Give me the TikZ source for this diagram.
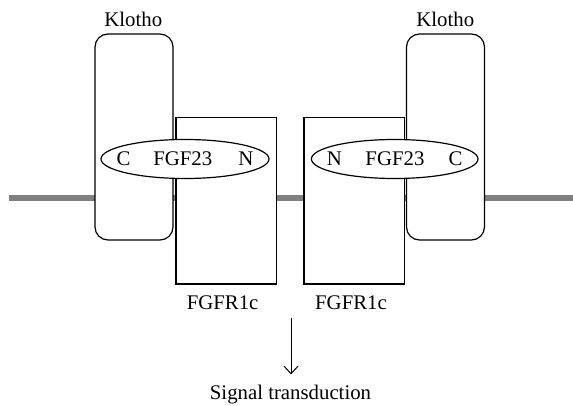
\documentclass[tikz,border=0pt]{standalone}
\usepackage{fontspec}
\setmainfont{Liberation Serif}
\usetikzlibrary{positioning}
\usetikzlibrary{shapes.geometric}
\usetikzlibrary{arrows.meta}
\pgfdeclarelayer{background}
\pgfsetlayers{background,main}

\begin{document}
\begin{tikzpicture}[x=0.5pt,y=-0.5pt,
	klothonode/.style={rectangle, rounded corners=6.5pt, draw=black, line width=0.6pt, fill=white, minimum width=39pt, minimum height=103pt},
	receptornode/.style={rectangle, draw=black, line width=0.6pt, fill=white, minimum width=50.4pt, minimum height=83.3pt},
	ligandnode/.style={ellipse, draw=black, line width=0.6pt, fill=white, minimum width=84pt, minimum height=19.5pt, inner sep=0pt},
	textnode/.style={anchor=base, inner sep=0pt, font=\fontsize{10.4}{12}\selectfont},
	]
	\useasboundingbox (0,0) rectangle (573,406);
	%Nodes
	\node[klothonode]     (k1)    at  (134,137)     {};
	\node[klothonode]     (k2)    at  (445.5,137)   {};
	\node[receptornode]   (r1)    at  (226.3,200.7) {};
	\node[receptornode]   (r2)    at  (354.3,200.7) {};
	\node[ligandnode, label={[textnode, anchor=center]center:C\hspace{11.4pt}FGF23\hspace{13pt}N}]    (l1)    at  (185,159)     {};
	\node[ligandnode, minimum width=83.3pt, label={[textnode, anchor=center]center:N\hspace{11.8pt}FGF23\hspace{12.1pt}C}] (l2)    at  (394.7,159)   {};
	\node[textnode]       (k1lab) at  (133.3,26.5)  {Klotho};
	\node[textnode]       (k2lab) at  (445.3,26.5)  {Klotho};
	\node[textnode]       (r1lab) at  (222.6,310)   {FGFR1c};
	\node[textnode]       (r2lab) at  (351,310)     {FGFR1c};
	\node[textnode]       (sig)   at  (290.5,399.3) {Signal transduction};
	\coordinate           (mL)    at  (9,198);
	\coordinate           (mR)    at  (573,198);
	\coordinate           (sigtop) at (291,318);

	\draw[line width=0.5pt, -{Straight Barb[length=3.8pt, width=7pt]}, shorten >=5pt] (sigtop) -- (sigtop |- sig.north);

	\begin{pgfonlayer}{background}
	\draw[line width=3pt, color=black!50] (mL) -- (mR);
	\end{pgfonlayer}
\end{tikzpicture}
\end{document}
